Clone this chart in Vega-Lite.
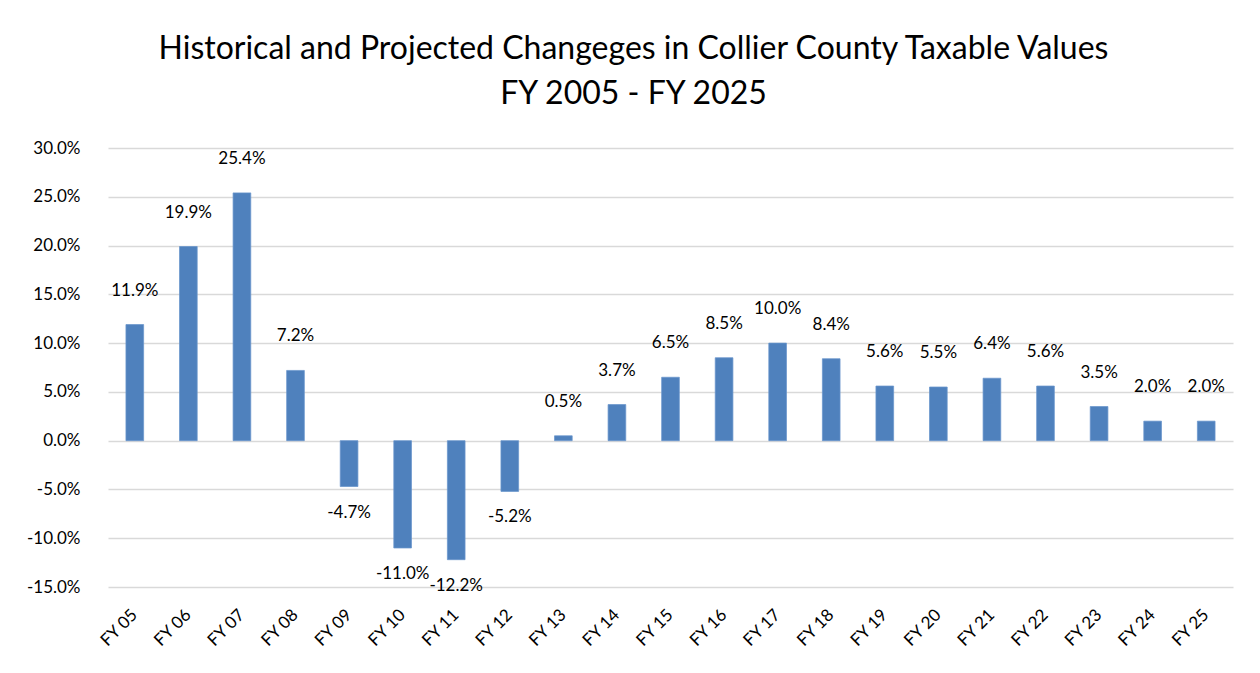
{
  "$schema": "https://vega.github.io/schema/vega-lite/v6.json",
  "width": 1125,
  "height": 439,
  "autosize": {"type": "none"},
  "padding": {"left": 108, "top": 148, "right": 27, "bottom": 86},
  "background": "white",
  "config": {
    "font": "Lato",
    "view": {"stroke": null},
    "locale": {
      "number": {
        "decimal": ".",
        "thousands": ",",
        "grouping": [3],
        "currency": ["$", ""],
        "minus": "-"
      }
    }
  },
  "title": {
    "text": ["Historical and Projected Changeges in Collier County Taxable Values", "FY 2005 - FY 2025"],
    "fontSize": 32,
    "fontWeight": "normal",
    "color": "#000000",
    "lineHeight": 45,
    "anchor": "middle",
    "frame": "group",
    "dx": -37,
    "offset": 28
  },
  "data": {
    "values": [
      {"fy": "FY 05", "change": 0.119},
      {"fy": "FY 06", "change": 0.199},
      {"fy": "FY 07", "change": 0.254},
      {"fy": "FY 08", "change": 0.072},
      {"fy": "FY 09", "change": -0.047},
      {"fy": "FY 10", "change": -0.110},
      {"fy": "FY 11", "change": -0.122},
      {"fy": "FY 12", "change": -0.052},
      {"fy": "FY 13", "change": 0.005},
      {"fy": "FY 14", "change": 0.037},
      {"fy": "FY 15", "change": 0.065},
      {"fy": "FY 16", "change": 0.085},
      {"fy": "FY 17", "change": 0.100},
      {"fy": "FY 18", "change": 0.084},
      {"fy": "FY 19", "change": 0.056},
      {"fy": "FY 20", "change": 0.055},
      {"fy": "FY 21", "change": 0.064},
      {"fy": "FY 22", "change": 0.056},
      {"fy": "FY 23", "change": 0.035},
      {"fy": "FY 24", "change": 0.020},
      {"fy": "FY 25", "change": 0.020}
    ]
  },
  "encoding": {
    "x": {
      "field": "fy",
      "type": "nominal",
      "sort": null,
      "scale": {"paddingInner": 0.67, "paddingOuter": 0.335},
      "axis": {
        "title": null,
        "labelAngle": -45,
        "labelAlign": "right",
        "labelBaseline": "middle",
        "labelFontSize": 17,
        "labelColor": "#000000",
        "labelPadding": 25,
        "domain": false,
        "ticks": false,
        "grid": false
      }
    },
    "y": {
      "field": "change",
      "type": "quantitative",
      "scale": {"domain": [-0.15, 0.30], "nice": false, "zero": false},
      "axis": {
        "title": null,
        "format": ".1%",
        "values": [-0.15, -0.10, -0.05, 0, 0.05, 0.10, 0.15, 0.20, 0.25, 0.30],
        "labelFontSize": 17,
        "labelColor": "#000000",
        "labelPadding": 28,
        "domain": false,
        "ticks": false,
        "grid": true,
        "gridColor": "#d9d9d9",
        "gridWidth": 1.5
      }
    }
  },
  "layer": [
    {
      "mark": {"type": "bar", "color": "#4F81BD", "stroke": "#6a96cc", "strokeWidth": 0.75},
      "encoding": {"y2": {"datum": 0}}
    },
    {
      "transform": [{"filter": "datum.change >= 0"}],
      "mark": {"type": "text", "fontSize": 17, "color": "#000000", "baseline": "middle", "dy": -34},
      "encoding": {"text": {"field": "change", "type": "quantitative", "format": ".1%"}}
    },
    {
      "transform": [{"filter": "datum.change < 0"}],
      "mark": {"type": "text", "fontSize": 17, "color": "#000000", "baseline": "middle", "dy": 26},
      "encoding": {"text": {"field": "change", "type": "quantitative", "format": ".1%"}}
    }
  ]
}
